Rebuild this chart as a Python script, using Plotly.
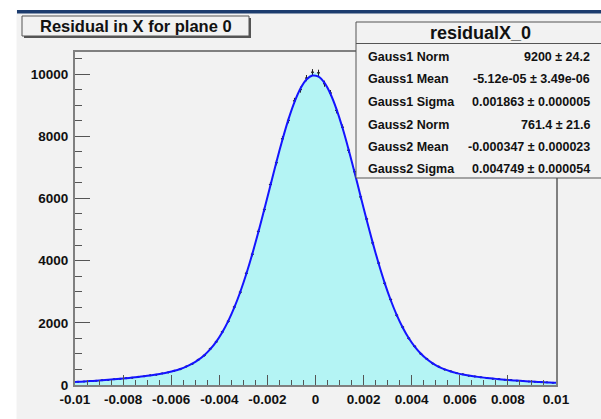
import numpy as np
import plotly.graph_objects as go

# ---------------- data ----------------
x_range = [-0.01, 0.01]
bin_width = 0.00025
bin_centers = [round(-0.009875 + i * bin_width, 6) for i in range(80)]

counts = [104, 110, 128, 135, 155, 164, 185, 197, 221, 234,
          262, 279, 310, 332, 373, 405, 461, 510, 596, 680,
          812, 952, 1163, 1389, 1708, 2049, 2508, 2986, 3592, 4205,
          4940, 5641, 6448, 7150, 7920, 8510, 9140, 9500, 9870, 10060,
          10040, 9690, 9390, 8830, 8290, 7550, 6860, 6050, 5340, 4570,
          3920, 3270, 2748, 2245, 1862, 1503, 1243, 1004, 841, 689,
          591, 495, 439, 376, 343, 300, 277, 246, 229, 203,
          190, 168, 157, 139, 130, 114, 106, 92, 85, 74]

fit_counts = [97, 102, 113, 125, 138, 152, 167, 182, 199, 218, 238,
              259, 282, 307, 336, 369, 409, 456, 515, 590, 685,
              806, 959, 1154, 1397, 1697, 2061, 2495, 3000, 3577, 4222,
              4922, 5662, 6420, 7174, 7891, 8544, 9100, 9534, 9824, 9953,
              9917, 9715, 9359, 8867, 8263, 7576, 6836, 6074, 5316, 4587,
              3905, 3285, 2734, 2256, 1850, 1512, 1235, 1012, 834, 695,
              586, 501, 434, 381, 339, 304, 274, 249, 226, 206,
              188, 171, 155, 141, 128, 116, 104, 94, 84, 75, 71]
fit_x = [x_range[0]] + bin_centers + [x_range[1]]

x_ticks = [-0.01, -0.008, -0.006, -0.004, -0.002, 0, 0.002, 0.004, 0.006, 0.008, 0.01]
x_tick_labels = ["-0.01", "-0.008", "-0.006", "-0.004", "-0.002", "0",
                 "0.002", "0.004", "0.006", "0.008", "0.01"]
y_ticks = [0, 2000, 4000, 6000, 8000, 10000]
y_tick_labels = ["0", "2000", "4000", "6000", "8000", "10000"]
y_max = 10710

title_text = "Residual in X for plane 0"
stats_title = "residualX_0"
stats_names = ["Gauss1 Norm", "Gauss1 Mean", "Gauss1 Sigma",
               "Gauss2 Norm", "Gauss2 Mean", "Gauss2 Sigma"]
stats_values = ["9200 ± 24.2", "-5.12e-05 ± 3.49e-06", "0.001863 ± 0.000005",
                "761.4 ± 21.6", "-0.000347 ± 0.000023", "0.004749 ± 0.000054"]

# ---------------- styles ----------------
BG = "#f2f2f2"
FILL = "#b4f4f4"
FIT = "#1414ff"
FONT = "Liberation Sans, Arial, Helvetica, sans-serif"
AXC = "#808080"

fig = go.Figure()

# histogram fill
fill_x = [x_range[0]] + bin_centers + [x_range[1]]
fill_y = [counts[0]] + counts + [counts[-1]]
fig.add_trace(go.Scatter(x=fill_x, y=fill_y, mode="lines", fill="tozeroy",
                         fillcolor=FILL, line=dict(width=0, color=FILL),
                         hoverinfo="skip"))

# histogram points with errors
fig.add_trace(go.Scatter(x=bin_centers, y=counts, mode="markers",
                         marker=dict(size=2, color="#222222"),
                         error_y=dict(type="data", array=list(np.sqrt(counts)),
                                      color="#222222", thickness=1, width=0),
                         error_x=dict(type="constant", value=bin_width * 0.25,
                                      color="#222222", thickness=1, width=0)))

# fit curve
fig.add_trace(go.Scatter(x=fit_x, y=fit_counts, mode="lines",
                         line=dict(color=FIT, width=2, shape="spline", smoothing=0.6)))

# ---------------- layout geometry ----------------
W, H = 601, 419
L, R, T, B = 75, 45, 52, 34
pw, ph = W - L - R, H - T - B


def px(xp):
    return (xp - L) / pw


def py(yp):
    return (H - B - yp) / ph


shapes = []
# white left and top margins + dark blue top rule
shapes.append(dict(type="rect", xref="paper", yref="paper", x0=px(-5), x1=px(16.5),
                   y0=py(425), y1=py(-5), fillcolor="white", line=dict(width=0), layer="above"))
shapes.append(dict(type="rect", xref="paper", yref="paper", x0=px(-5), x1=px(606),
                   y0=py(10), y1=py(-5), fillcolor="white", line=dict(width=0), layer="above"))
shapes.append(dict(type="rect", xref="paper", yref="paper", x0=px(17), x1=px(606),
                   y0=py(13.5), y1=py(10), fillcolor="#1c3c6e", line=dict(width=0), layer="above"))

# white line at zero and faint cyan lines inside the fill
shapes.append(dict(type="line", xref="x", yref="y", x0=0, x1=0, y0=0,
                   y1=max(fit_counts) * 0.985, line=dict(color="white", width=1.5), layer="below"))
for idx in (27, 52):
    shapes.append(dict(type="line", xref="x", yref="y", x0=bin_centers[idx], x1=bin_centers[idx],
                       y0=0, y1=counts[idx] * 0.97, line=dict(color="#86eeee", width=1),
                       layer="below"))

# title box with shadow
shapes.append(dict(type="rect", xref="paper", yref="paper", x0=px(24), x1=px(251),
                   y0=py(38), y1=py(18), fillcolor="#555555", line=dict(width=0), layer="above"))
shapes.append(dict(type="rect", xref="paper", yref="paper", x0=px(22), x1=px(249),
                   y0=py(36), y1=py(16), fillcolor=BG, line=dict(color="#555555", width=1),
                   layer="above"))

# stats box
shapes.append(dict(type="rect", xref="paper", yref="paper", x0=px(356), x1=px(610),
                   y0=py(178), y1=py(22), fillcolor=BG, line=dict(color="#555555", width=1),
                   layer="above"))
shapes.append(dict(type="line", xref="paper", yref="paper", x0=px(356), x1=px(610),
                   y0=py(43.5), y1=py(43.5), line=dict(color="#555555", width=1), layer="above"))

annotations = []
annotations.append(dict(xref="paper", yref="paper", x=px(135.5), y=py(26.5), text=title_text,
                        showarrow=False, xanchor="center", yanchor="middle",
                        font=dict(family=FONT, size=16.5, color="#111111", weight="bold")))
annotations.append(dict(xref="paper", yref="paper", x=px(480), y=py(33), text=stats_title,
                        showarrow=False, xanchor="center", yanchor="middle",
                        font=dict(family=FONT, size=18, color="#111111", weight="bold")))
row_y = [57, 79.5, 102, 124.5, 147, 169]
for name, val, yy in zip(stats_names, stats_values, row_y):
    annotations.append(dict(xref="paper", yref="paper", x=px(366), y=py(yy), text=name,
                            showarrow=False, xanchor="left", yanchor="middle",
                            font=dict(family=FONT, size=12.5, color="#111111", weight="bold")))
    annotations.append(dict(xref="paper", yref="paper", x=px(592), y=py(yy), text=val,
                            showarrow=False, xanchor="right", yanchor="middle",
                            font=dict(family=FONT, size=12.5, color="#111111", weight="bold")))

tickfont = dict(family=FONT, size=13.5, color="#111111", weight="bold")

fig.update_layout(
    width=W, height=H,
    margin=dict(l=L, r=R, t=T, b=B, pad=0, autoexpand=False),
    paper_bgcolor=BG, plot_bgcolor=BG,
    showlegend=False,
    shapes=shapes, annotations=annotations,
    xaxis=dict(range=x_range, tickmode="array", tickvals=x_ticks, ticktext=x_tick_labels,
               ticks="inside", ticklen=10, tickwidth=1.2, tickcolor="#555555",
               minor=dict(ticks="inside", ticklen=5, tickwidth=1.2, tickcolor="#555555",
                          tick0=-0.01, dtick=0.0005, showgrid=False),
               showline=True, linecolor=AXC, linewidth=2, mirror=True,
               showgrid=False, zeroline=False, tickfont=tickfont, automargin=False,
               ticklabelstandoff=1),
    yaxis=dict(range=[0, y_max], tickmode="array", tickvals=y_ticks, ticktext=y_tick_labels,
               ticks="inside", ticklen=15, tickwidth=1.2, tickcolor="#555555",
               minor=dict(ticks="inside", ticklen=7, tickwidth=1.2, tickcolor="#555555",
                          tick0=0, dtick=500, showgrid=False),
               showline=True, linecolor=AXC, linewidth=2, mirror=True,
               showgrid=False, zeroline=False, tickfont=tickfont, automargin=False,
               ticklabelstandoff=2),
)

fig.write_html("out.html",
               config={"displayModeBar": False},
               post_script="document.body.style.margin='0px';"
                           "document.body.style.overflow='hidden';")
